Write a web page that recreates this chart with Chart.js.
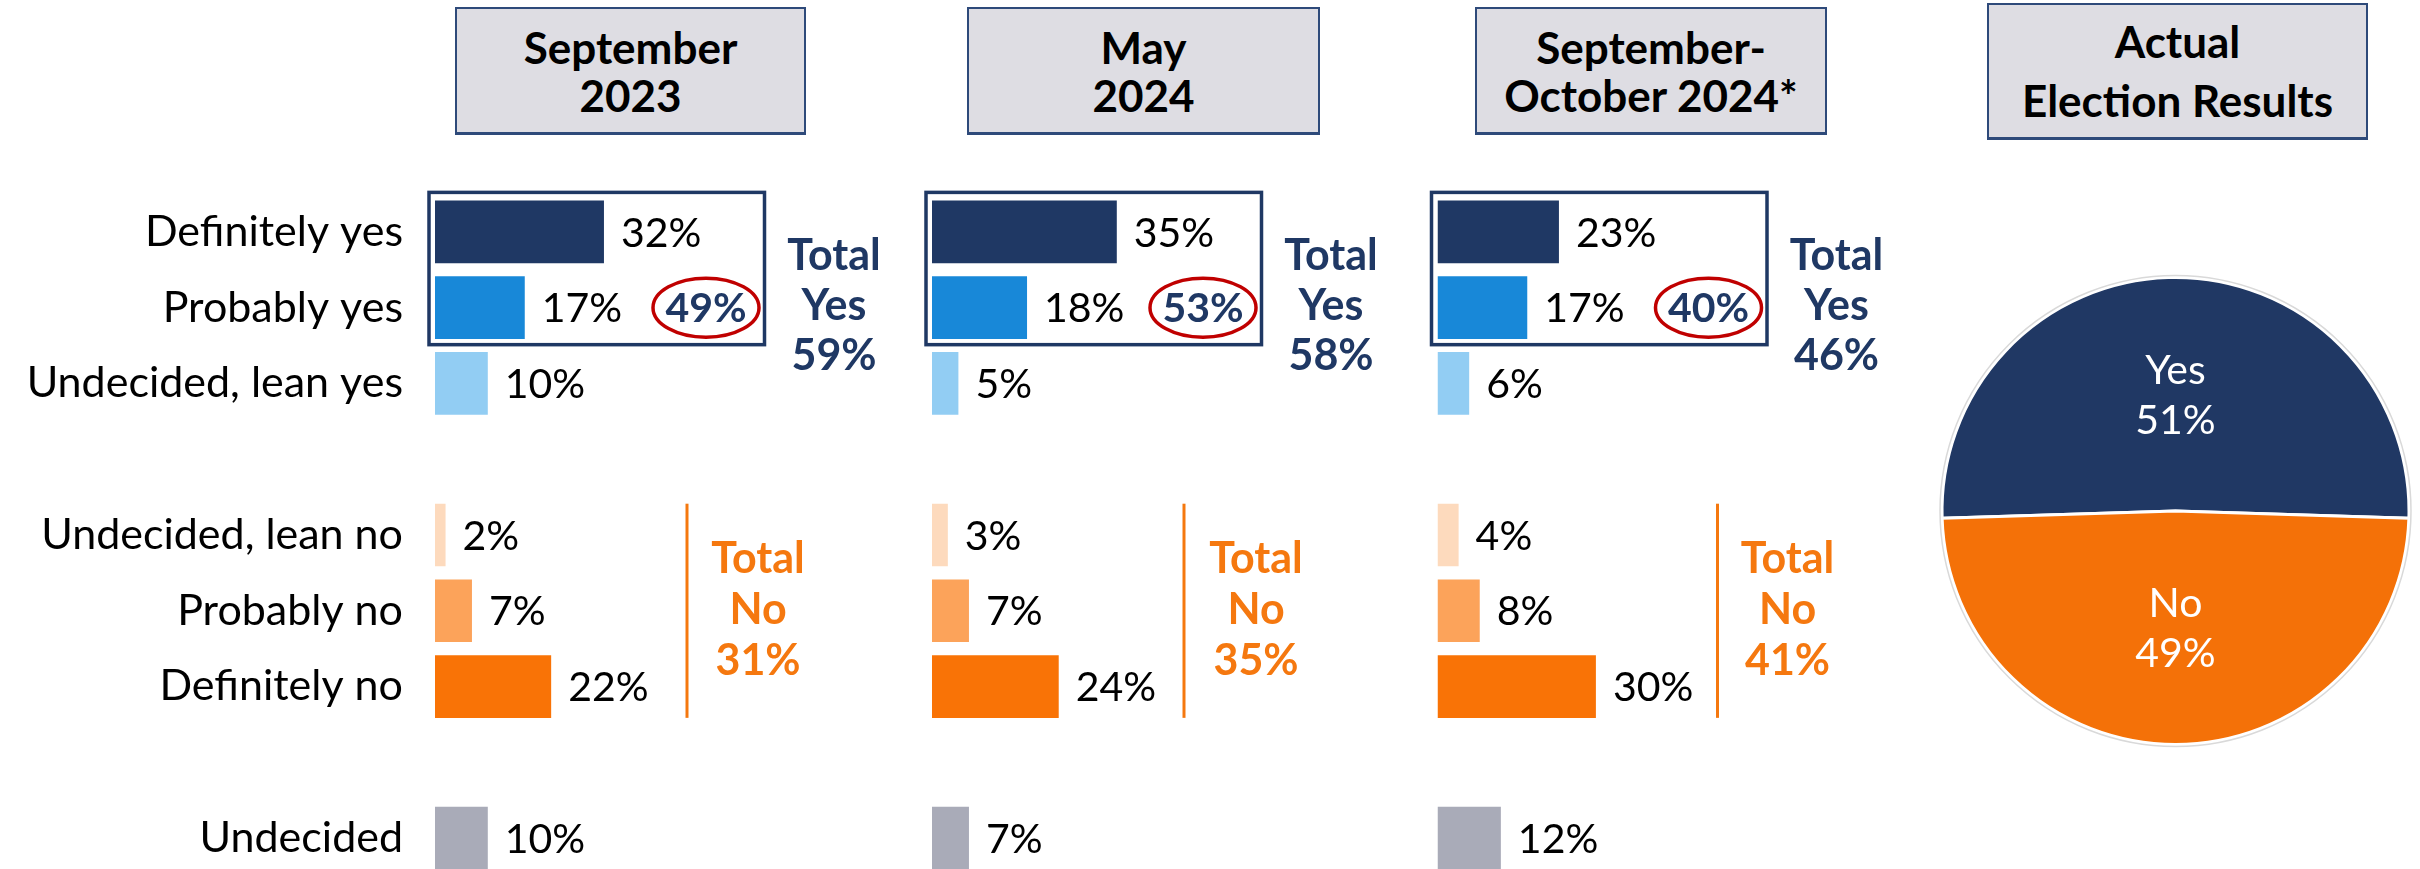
<!DOCTYPE html>
<html>
<head>
<meta charset="utf-8">
<title>Ballot question: Yes / No across three waves and the actual result</title>
<script src="https://cdn.jsdelivr.net/npm/chart.js@4.4.1/dist/chart.umd.min.js"></script>
<style>
  html, body { margin: 0; padding: 0; background: #fff; width: 2420px; height: 869px; overflow: hidden; }
  canvas { position: absolute; top: 0; }
  .header {
    position: absolute; box-sizing: border-box;
    background: #DEDDE3; border: 2px solid #2E4A7A; border-bottom-width: 3px;
    display: flex; flex-direction: column; justify-content: center; align-items: center;
    font-family: Lato, sans-serif; font-weight: bold; font-size: 44px; color: #000;
    text-align: center; white-space: nowrap;
  }
</style>
</head>
<body>
<canvas id="wave0" width="910" height="876" style="left:0px"></canvas>
<canvas id="wave1" width="505" height="876" style="left:910px"></canvas>
<canvas id="wave2" width="505" height="876" style="left:1415px"></canvas>
<canvas id="result" width="500" height="876" style="left:1920px"></canvas>

<script>
// ---- data ----
const categories = ['Definitely yes', 'Probably yes', 'Undecided, lean yes', '',
  'Undecided, lean no', 'Probably no', 'Definitely no', '', 'Undecided'];

const sep2023 = [32, 17, 10, null, 2, 7, 22, null, 10];
const may2024 = [35, 18, 5, null, 3, 7, 24, null, 7];
const sepOct2024 = [23, 17, 6, null, 4, 8, 30, null, 12];

const firmYes = [49, 53, 40];    // definitely + probably yes (circled)
const totalYes = [59, 58, 46];
const totalNo = [31, 35, 41];

const waveHeaders = [['September', '2023'], ['May', '2024'], ['September-', 'October 2024*']];
const resultHeader = ['Actual', 'Election Results'];
const resultLabels = ['Yes', 'No'];
const resultValues = [51, 49];

// ---- styling ----
const NAVY = '#1F3864';
const ORANGE = '#F5780F';
const RED = '#C00000';
const barColors = ['#1F3864', '#1888D8', '#92CDF3', '#fff', '#FDDABD', '#FCA35A', '#F97306', '#fff', '#A9ABB8'];

const PX_PER_PCT = 5.28;   // bar length per percentage point
const X_MAX = 60;

const panels = [
  { id: 'wave0', width: 910, padLeft: 0, axisWidth: 435, values: sep2023, noLine: 252, noText: 323 },
  { id: 'wave1', width: 505, padLeft: 22, axisWidth: 0, values: may2024, noLine: 252, noText: 324 },
  { id: 'wave2', width: 505, padLeft: 22.5, axisWidth: 0, values: sepOct2024, noLine: 280, noText: 350 }
];

const headerBoxes = [
  { left: 455, top: 7, w: 351, h: 128, lh: 48 },
  { left: 967, top: 7, w: 353, h: 128, lh: 48 },
  { left: 1475, top: 7, w: 352, h: 128, lh: 48 },
  { left: 1987, top: 3, w: 381, h: 137, lh: 59 }
];

// text drawn with its cap height centred on y
function capText(ctx, text, x, y, size) {
  ctx.fillText(text, x, y + size * 0.358);
}

// value labels, the "yes" box, the circled sum and the totals
const overlayPlugin = {
  id: 'overlay',
  afterDatasetsDraw(chart, args, opts) {
    const { ctx } = chart;
    const xs = chart.scales.x, ys = chart.scales.y;
    const x0 = xs.getPixelForValue(0);
    const row = i => ys.getPixelForValue(i);
    const values = chart.data.datasets[0].data;
    const bars = chart.getDatasetMeta(0).data;

    ctx.save();
    ctx.font = '41px Lato';
    ctx.fillStyle = '#000';
    ctx.textAlign = 'left';
    bars.forEach((bar, i) => {
      if (values[i] == null) return;
      capText(ctx, values[i] + '%', bar.x + 17, bar.y, 41);
    });

    // box round definitely + probably yes
    ctx.strokeStyle = NAVY;
    ctx.lineWidth = 3.5;
    const top = row(0) - 39.5, bottom = row(1) + 37;
    ctx.strokeRect(x0 - 6, top, 335.5, bottom - top);

    // red ring with the firm yes share
    ctx.strokeStyle = RED;
    ctx.lineWidth = 3.5;
    ctx.beginPath();
    ctx.ellipse(x0 + 271, row(1), 53, 29.5, 0, 0, Math.PI * 2);
    ctx.stroke();
    ctx.font = 'bold 41px Lato';
    ctx.fillStyle = NAVY;
    ctx.textAlign = 'center';
    capText(ctx, opts.firm + '%', x0 + 271, row(1), 41);

    // total yes
    ctx.font = 'bold 43px Lato';
    ['Total', 'Yes', opts.yes + '%'].forEach((t, k) => {
      capText(ctx, t, x0 + 399, row(1) - 3 + (k - 1) * 50, 42);
    });

    // total no with its rule
    ctx.strokeStyle = ORANGE;
    ctx.lineWidth = 3;
    ctx.beginPath();
    ctx.moveTo(x0 + opts.noLine, row(4) - 31.3);
    ctx.lineTo(x0 + opts.noLine, row(6) + 31.3);
    ctx.stroke();
    ctx.fillStyle = ORANGE;
    ['Total', 'No', opts.no + '%'].forEach((t, k) => {
      capText(ctx, t, x0 + opts.noText, row(5) - 2 + (k - 1) * 51, 42);
    });
    ctx.restore();
  }
};

const pieLabelPlugin = {
  id: 'pieLabels',
  afterDatasetsDraw(chart) {
    const { ctx } = chart;
    const arcs = chart.getDatasetMeta(0).data;
    ctx.save();
    // faint outer ring
    const a = arcs[0];
    ctx.strokeStyle = '#D9D9D9';
    ctx.lineWidth = 1.5;
    ctx.beginPath();
    ctx.arc(a.x, a.y, a.outerRadius + 2, 0, Math.PI * 2);
    ctx.stroke();

    ctx.font = '41px Lato';
    ctx.fillStyle = '#fff';
    ctx.textAlign = 'center';
    arcs.forEach((arc, i) => {
      const p = arc.getCenterPoint();
      capText(ctx, resultLabels[i], p.x, p.y - 25, 41);
      capText(ctx, resultValues[i] + '%', p.x, p.y + 25, 41);
    });
    ctx.restore();
  }
};

function drawHeaders() {
  const texts = waveHeaders.concat([resultHeader]);
  headerBoxes.forEach((b, i) => {
    const div = document.createElement('div');
    div.className = 'header';
    div.style.left = b.left + 'px';
    div.style.top = b.top + 'px';
    div.style.width = b.w + 'px';
    div.style.height = b.h + 'px';
    div.style.lineHeight = b.lh + 'px';
    texts[i].forEach(line => {
      const s = document.createElement('div');
      s.textContent = line;
      div.appendChild(s);
    });
    document.body.appendChild(div);
  });
}

function drawCharts() {
  Chart.defaults.font.family = 'Lato';
  Chart.defaults.color = '#000';

  panels.forEach((p, i) => {
    const padRight = p.width - p.padLeft - p.axisWidth - X_MAX * PX_PER_PCT;
    new Chart(document.getElementById(p.id), {
      type: 'bar',
      data: {
        labels: categories,
        datasets: [{
          data: p.values,
          backgroundColor: barColors,
          borderWidth: 0,
          barPercentage: 0.827,
          categoryPercentage: 1
        }]
      },
      options: {
        indexAxis: 'y',
        responsive: false,
        animation: false,
        events: [],
        layout: { padding: { left: p.padLeft, right: padRight, top: 194, bottom: 0 } },
        plugins: {
          legend: { display: false },
          tooltip: { enabled: false },
          overlay: { firm: firmYes[i], yes: totalYes[i], no: totalNo[i], noLine: p.noLine, noText: p.noText }
        },
        scales: {
          x: { display: false, min: 0, max: X_MAX },
          y: {
            display: i === 0,
            grid: { display: false, drawTicks: false },
            border: { display: false },
            ticks: { autoSkip: false, padding: 32, font: { size: 43 }, color: '#000' },
            afterFit: scale => {
              if (!p.axisWidth) return;
              scale.width = p.axisWidth;
              // keep the label area from squeezing the rows
              scale.paddingTop = 0;
              scale.paddingBottom = 0;
            }
          }
        }
      },
      plugins: [overlayPlugin]
    });
  });

  new Chart(document.getElementById('result'), {
    type: 'pie',
    data: {
      labels: resultLabels,
      datasets: [{
        data: resultValues,
        backgroundColor: ['#203864', '#F47108'],
        borderColor: '#fff',
        borderWidth: 3
      }]
    },
    options: {
      responsive: false,
      animation: false,
      events: [],
      rotation: -resultValues[0] * 3.6 / 2,   // centre the yes slice at the top
      layout: { padding: { left: 20.5, right: 9.5, top: 276, bottom: 130 } },
      plugins: { legend: { display: false }, tooltip: { enabled: false } }
    },
    plugins: [pieLabelPlugin]
  });
}

drawHeaders();
Promise.all([
  document.fonts.load('41px Lato'),
  document.fonts.load('bold 43px Lato')
]).then(drawCharts, drawCharts);
</script>
</body>
</html>
